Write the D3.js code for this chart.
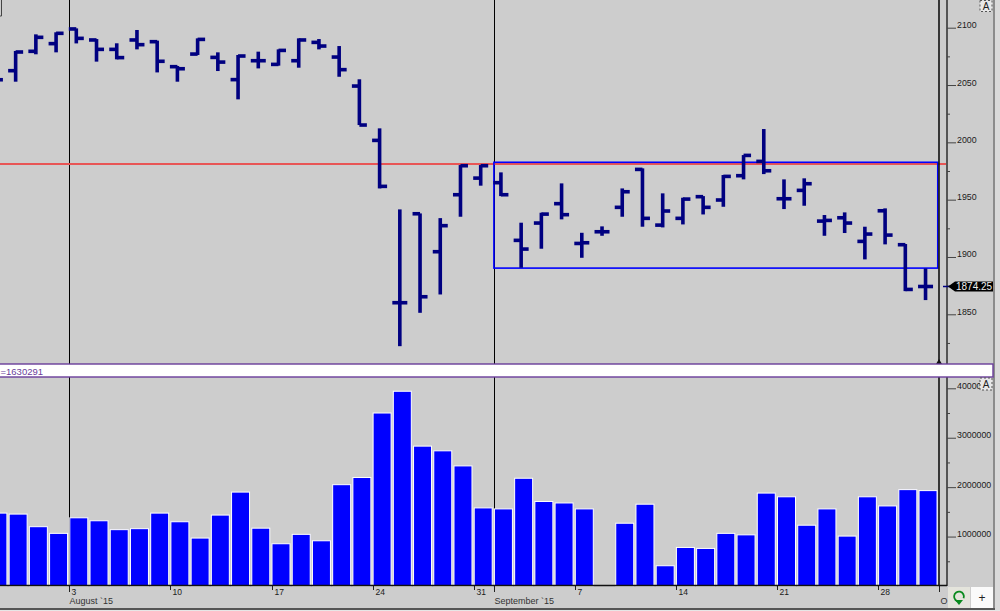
<!DOCTYPE html>
<html>
<head>
<meta charset="utf-8">
<script src="https://cdnjs.cloudflare.com/ajax/libs/d3/7.8.5/d3.min.js"></script>
<style>
html, body { margin: 0; padding: 0; background: #cdcdcd; overflow: hidden; }
svg { display: block; font-family: "Liberation Sans", sans-serif; }
</style>
</head>
<body>
<svg id="chart" width="1000" height="611"></svg>
<script>
const dates = ["Jul 28","Jul 29","Jul 30","Jul 31","Aug 3","Aug 4","Aug 5","Aug 6","Aug 7","Aug 10","Aug 11","Aug 12","Aug 13","Aug 14","Aug 17","Aug 18","Aug 19","Aug 20","Aug 21","Aug 24","Aug 25","Aug 26","Aug 27","Aug 28","Aug 31","Sep 1","Sep 2","Sep 3","Sep 4","Sep 7","Sep 8","Sep 9","Sep 10","Sep 11","Sep 14","Sep 15","Sep 16","Sep 17","Sep 18","Sep 21","Sep 22","Sep 23","Sep 24","Sep 25","Sep 28","Sep 29","Sep 30","Oct 1"];

const opens = [2054.6,2062.5,2079.4,2086.1,2098.9,2089.3,2081.1,2089.3,2087.8,2066,2077,2074.1,2054.7,2071.2,2068,2071.2,2087.2,2074.4,2049.1,2001.7,1860.1,1937.7,1904.6,1954.3,1968.8,1964.8,1914.5,1929.6,1946.5,1911.8,1922,1943.3,1976.4,1927.8,1933.7,1952.6,1949.7,1970.9,1983.4,1950.8,1958.1,1931.3,1934.2,1913.6,1940.3,1910.7,1874.25];
const highs = [2062,2079.7,2094.2,2096,2099.4,2090.1,2086.4,2098,2088.7,2066.6,2090.7,2078.5,2076.2,2079.1,2081.1,2090.7,2090.1,2084,2055,2012.2,1941.5,1938,1933.9,1980.2,1980.2,1973.8,1929.9,1938.6,1964.2,1921.1,1926.7,1959.8,1977.3,1955.5,1951.7,1953.1,1971.5,1988.9,2011.6,1967.7,1968.6,1936.6,1938.9,1926.4,1942.4,1911.3,1890];
const lows = [2048,2052.9,2076.8,2078.5,2086.3,2070.4,2072.4,2081.1,2061,2052.9,2076.2,2062.2,2037.5,2064.5,2066.9,2065.1,2081.1,2057.2,2015.1,1959.8,1822.2,1851.3,1867.3,1935.1,1962.2,1953.1,1890.6,1907.2,1932.8,1899.3,1918.5,1935.1,1926.4,1925.8,1928.4,1937.1,1943.8,1967.7,1972.3,1941.8,1944.7,1918.5,1920.9,1897.9,1911,1870.2,1862.4];
const closes = [2054.6,2078.8,2091.6,2095.1,2090.7,2081.1,2073.9,2085.2,2070.7,2064.2,2089.8,2070,2075.3,2071.2,2080.2,2089.3,2084,2063.4,2015.1,1961.6,1860.1,1865.3,1927.3,1979.6,1979.6,1954.3,1906.9,1937.4,1936.9,1912.4,1922,1956.9,1933.7,1940.1,1950.5,1943.3,1970.3,1988.6,1975.2,1950.8,1963.9,1931.9,1929.6,1920,1919.1,1871.7,1874.25];
const volumes = [1475000,1455000,1200000,1065000,1380000,1320000,1140000,1160000,1475000,1300000,970000,1435000,1900000,1170000,855000,1045000,915000,2050000,2195000,3500000,3940000,2830000,2735000,2430000,1580000,1560000,2180000,1710000,1680000,1560000,0,1270000,1655000,410000,780000,760000,1065000,1035000,1880000,1805000,1230000,1560000,1010000,1805000,1620000,1950000,1930000];

const priceTicks = [1850,1900,1950,2000,2050,2100];
const priceMinorTicks = [1825,1875,1925,1975,2025,2075];
const volumeTicks = [1000000,2000000,3000000,4000000];
const volumeTickLabels = ["1000000","2000000","3000000","40000"];
const volumeMinorTicks = [500000,1500000,2500000,3500000];
const dayTicks = ["Aug 3","Aug 10","Aug 17","Aug 24","Aug 31","Sep 7","Sep 14","Sep 21","Sep 28"];
const dayLabels = ["3","10","17","24","31","7","14","21","28"];
const monthTicks = ["Aug 3","Sep 1","Oct 1"];
const monthLabels = ["August `15","September `15","O"];
const cursorDates = ["Aug 3","Sep 1"];
const hLinePrice = 1981;
const boxTop = 1982.6, boxBottom = 1890.3;
const lastPrice = 1874.25;
const volumeLabel = "=1630291";

const svg = d3.select("#chart");
const axisX = 947, plotRight = 939, panelRight = 994;
const stripTop = 364, stripBottom = 377, baseY = 586;

const x = d3.scaleBand()
    .domain(dates)
    .range([69.3 - 4 * 20.22, 69.3 + 44 * 20.22]);
const y = d3.scaleLinear().domain([1850, 2100]).range([314.3, 27.7]);
const yVol = d3.scaleLinear().domain([0, 4000000]).range([baseY, 388.3]);

const navy = "#000080", blue = "#0000ff", textCol = "#1a1a1a";
const stemX = d => x(d) + 7;
const barW = 3.6;

// panels
svg.append("rect").attr("width", 1000).attr("height", 611).attr("fill", "#cdcdcd");
svg.append("rect").attr("x", 995).attr("width", 5).attr("height", 611).attr("fill", "#dadada");
svg.append("rect").attr("x", 993).attr("width", 2).attr("height", 609).attr("fill", "#8c8c8c");
svg.append("rect").attr("x", 0).attr("y", 608).attr("width", 995).attr("height", 2).attr("fill", "#555");
svg.append("rect").attr("x", 0).attr("y", 610).attr("width", 1000).attr("height", 1).attr("fill", "#e6e6e6");

// vertical cursor lines
svg.selectAll(".cursor")
    .data(cursorDates)
    .join("line")
    .attr("class", "cursor")
    .attr("x1", d => Math.round(x(d)) + 0.5)
    .attr("x2", d => Math.round(x(d)) + 0.5)
    .attr("y1", 0)
    .attr("y2", baseY)
    .attr("stroke", "#000");

// red horizontal line
svg.append("line")
    .attr("x1", 0).attr("x2", axisX)
    .attr("y1", y(hLinePrice)).attr("y2", y(hLinePrice))
    .attr("stroke", "#e85555").attr("stroke-width", 2);

// volume bars
svg.append("g").selectAll("rect")
    .data(volumes.map((v, i) => ({ date: dates[i], v })).filter(d => d.v > 0))
    .join("rect")
    .attr("x", d => x(d.date) + 0.5)
    .attr("y", d => yVol(d.v))
    .attr("width", 18)
    .attr("height", d => baseY - yVol(d.v))
    .attr("fill", blue)
    .attr("stroke", "#fff")
    .attr("stroke-width", 1);

// rectangle drawing tool
svg.append("rect")
    .attr("x", x("Sep 1"))
    .attr("y", y(boxTop))
    .attr("width", x("Oct 1") - x("Sep 1") - 1)
    .attr("height", y(boxBottom) - y(boxTop))
    .attr("fill", "none")
    .attr("stroke", blue)
    .attr("stroke-width", 1.6);

// OHLC bars
const ohlc = svg.append("g").selectAll("g")
    .data(opens.map((o, i) => ({ date: dates[i], o, h: highs[i], l: lows[i], c: closes[i] })))
    .join("g");
ohlc.append("rect")
    .attr("x", d => stemX(d.date) - barW / 2)
    .attr("y", d => y(d.h))
    .attr("width", barW)
    .attr("height", d => y(d.l) - y(d.h))
    .attr("fill", navy);
ohlc.append("rect")
    .attr("x", d => stemX(d.date) - 7.5)
    .attr("y", d => y(d.o) - barW / 2)
    .attr("width", 7.5)
    .attr("height", barW)
    .attr("fill", navy);
ohlc.append("rect")
    .attr("x", d => stemX(d.date))
    .attr("y", d => y(d.c) - barW / 2)
    .attr("width", 7.5)
    .attr("height", barW)
    .attr("fill", navy);

// right edge lines
[[plotRight, 0, stripTop], [plotRight, stripBottom, baseY]].forEach(s => {
    svg.append("line")
        .attr("x1", s[0]).attr("x2", s[0])
        .attr("y1", s[1]).attr("y2", s[2])
        .attr("stroke", "#111").attr("stroke-width", 1.6);
});
svg.append("path").attr("d", `M${plotRight - 3},364 L${plotRight},359 L${plotRight + 3},364 Z`).attr("fill", "#111");
svg.append("line")
    .attr("x1", axisX).attr("x2", axisX)
    .attr("y1", 0).attr("y2", baseY)
    .attr("stroke", "#555").attr("stroke-width", 2);

// price axis
const priceAxis = svg.append("g")
    .attr("transform", `translate(${axisX},0)`)
    .call(d3.axisRight(y).tickValues(priceTicks).tickSize(9).tickPadding(1).tickFormat(d3.format("d")));
const volAxis = svg.append("g")
    .attr("transform", `translate(${axisX},0)`)
    .call(d3.axisRight(yVol).tickValues(volumeTicks).tickSize(9).tickPadding(1)
        .tickFormat((d, i) => volumeTickLabels[i]));
const priceMinor = svg.append("g")
    .attr("transform", `translate(${axisX},0)`)
    .call(d3.axisRight(y).tickValues(priceMinorTicks).tickSize(3).tickFormat(""));
const volMinor = svg.append("g")
    .attr("transform", `translate(${axisX},0)`)
    .call(d3.axisRight(yVol).tickValues(volumeMinorTicks).tickSize(3).tickFormat(""));
[priceAxis, volAxis, priceMinor, volMinor].forEach(a => {
    a.select(".domain").remove();
    a.selectAll("line").attr("stroke", "#444");
    a.selectAll("text")
        .attr("dy", "0")
        .attr("fill", textCol)
        .style("font-size", "8.8px")
        .style("font-family", "Liberation Sans");
});

// date axis
const dateAxis = svg.append("g")
    .attr("transform", `translate(0,${baseY})`)
    .call(d3.axisBottom(x).tickValues(dayTicks).tickSize(4).tickPadding(0)
        .tickFormat((d, i) => dayLabels[i]));
dateAxis.select(".domain").remove();
dateAxis.selectAll(".tick").attr("transform", d => `translate(${Math.round(x(d)) + 0.5},0)`);
dateAxis.selectAll("line").attr("stroke", "#222");
dateAxis.selectAll("text")
    .attr("text-anchor", "start")
    .attr("x", 2)
    .attr("y", 3)
    .attr("fill", textCol)
    .style("font-size", "8.5px")
    .style("font-family", "Liberation Sans");

const monthAxis = svg.append("g")
    .attr("transform", `translate(0,${baseY})`)
    .call(d3.axisBottom(x).tickValues(monthTicks).tickSize(6).tickPadding(0)
        .tickFormat((d, i) => monthLabels[i]));
monthAxis.select(".domain").remove();
monthAxis.selectAll(".tick").attr("transform", d => `translate(${Math.round(x(d)) + 0.5},0)`);
monthAxis.selectAll("line").attr("stroke", "#222");
monthAxis.selectAll("text")
    .attr("text-anchor", "start")
    .attr("x", d => d === "Oct 1" ? 1 : 0)
    .attr("y", 12)
    .attr("fill", "#333")
    .style("font-size", "9px")
    .style("font-family", "Liberation Sans");

svg.append("line")
    .attr("x1", 0).attr("x2", axisX)
    .attr("y1", baseY - 0.5).attr("y2", baseY - 0.5)
    .attr("stroke", "#111").attr("stroke-width", 1.5);

// volume legend strip
svg.append("rect")
    .attr("x", -2).attr("y", stripTop)
    .attr("width", panelRight - 1 + 2).attr("height", stripBottom - stripTop)
    .attr("fill", "#fff").attr("stroke", "#6a3d9a").attr("stroke-width", 1.4);
svg.append("text")
    .attr("x", 0.5).attr("y", 374.5)
    .attr("fill", "#6a3d9a")
    .style("font-size", "9.5px")
    .text(volumeLabel);

// last price tag
svg.append("line")
    .attr("x1", 943).attr("x2", 950)
    .attr("y1", y(lastPrice)).attr("y2", y(lastPrice))
    .attr("stroke", navy).attr("stroke-width", 1.5);
svg.append("path")
    .attr("d", `M948,${y(lastPrice)} L955,${y(lastPrice) - 5} L993,${y(lastPrice) - 5} L993,${y(lastPrice) + 5} L955,${y(lastPrice) + 5} Z`)
    .attr("fill", "#000");
svg.append("text")
    .attr("x", 956).attr("y", y(lastPrice) + 3.5)
    .attr("fill", "#eee")
    .style("font-size", "10px")
    .text(d3.format(".2f")(lastPrice));

// auto scale buttons
[[980, 0.5, 11], [980, 378, 12]].forEach(b => {
    svg.append("rect")
        .attr("x", b[0]).attr("y", b[1])
        .attr("width", 12).attr("height", b[2])
        .attr("fill", "#e8e8e8").attr("stroke", "#555").attr("stroke-dasharray", "2,2");
    svg.append("text")
        .attr("x", b[0] + 6).attr("y", b[1] + b[2] - 2)
        .attr("text-anchor", "middle")
        .attr("fill", "#222")
        .style("font-size", "10px")
        .text("A");
});

// bottom right buttons
svg.append("rect").attr("x", 948).attr("y", 587).attr("width", 22).attr("height", 21).attr("fill", "#e4e4dc");
svg.append("rect").attr("x", 971).attr("y", 587).attr("width", 22).attr("height", 21).attr("fill", "#fafafa");
svg.append("path")
    .attr("d", d3.arc()({ innerRadius: 4, outerRadius: 5.8, startAngle: 0.5, endAngle: 5.6 }))
    .attr("transform", "translate(959,596.5) rotate(150)")
    .attr("fill", "#0a8a1e");
svg.append("path").attr("d", "M955,600 L963,600 L959,605 Z").attr("fill", "#0a8a1e");
svg.append("text")
    .attr("x", 982).attr("y", 601.5)
    .attr("text-anchor", "middle")
    .attr("fill", "#222")
    .style("font-size", "12px")
    .text("+");

// window corner box, top left
svg.append("path").attr("d", "M1.5,0 L1.5,16 L0,16").attr("fill", "none").attr("stroke", "#444");
</script>
</body>
</html>
